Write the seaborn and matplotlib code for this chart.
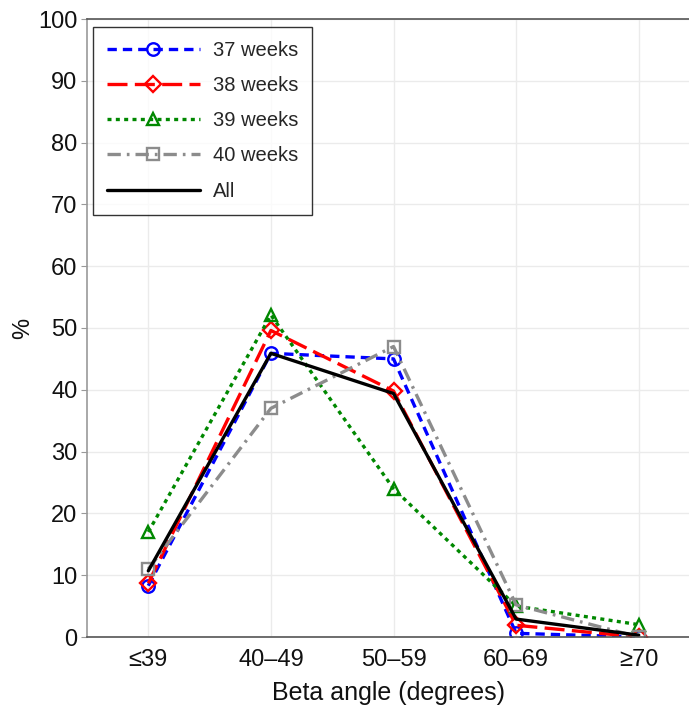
"""
Beta angle distribution by gestational age.
"""

import pandas as pd
import matplotlib.pyplot as plt
import seaborn as sns

# Data
categories = ["≤39", "40–49", "50–59", "60–69", "≥70"]
wk37 = [8.3, 45.9, 45.0, 0.6, 0.0]
wk38 = [8.7, 49.6, 39.8, 1.9, 0.0]
wk39 = [17.0, 52.1, 24.0, 5.0, 2.0]
wk40 = [11.0, 37.0, 47.0, 5.2, 0.0]
all_weeks = [10.7, 45.9, 39.4, 2.9, 0.3]

series_names = ["37 weeks", "38 weeks", "39 weeks", "40 weeks", "All"]
series_values = [wk37, wk38, wk39, wk40, all_weeks]

styles = {
    "37 weeks": dict(color="#0000ff", dashes=(2.8, 1.8), marker="o"),
    "38 weeks": dict(color="#ff0000", dashes=(6.0, 2.2), marker="D"),
    "39 weeks": dict(color="#008800", dashes=(1.2, 1.3), marker="^"),
    "40 weeks": dict(color="#8c8c8c", dashes=(4.0, 1.8, 0.8, 1.8), marker="s"),
    "All": dict(color="black", dashes=None, marker=None),
}

rows = []
for name, vals in zip(series_names, series_values):
    for i, v in enumerate(vals):
        rows.append({"series": name, "pos": i, "pct": v})
df = pd.DataFrame(rows)

sns.set_style("white")
plt.rcParams["font.family"] = ["Liberation Sans", "DejaVu Sans"]

fig = plt.figure(figsize=(6.89, 7.11), dpi=100)
ax = fig.add_axes([87 / 689, 74 / 711, 602 / 689, 618 / 711])

for name in series_names:
    st = styles[name]
    sub = df[df["series"] == name]
    kw = dict(color=st["color"], linewidth=2.4, label=name)
    if st["marker"]:
        kw.update(marker=st["marker"], markersize=9 if st["marker"] != "D" else 8,
                  markerfacecolor="none", markeredgecolor=st["color"],
                  markeredgewidth=1.7)
    line = sns.lineplot(data=sub, x="pos", y="pct", ax=ax, **kw).lines[-1]
    if st["dashes"]:
        line.set_dashes(st["dashes"])

ax.set_xlim(-0.5, 4.41)
ax.set_ylim(0, 100)
ax.set_xticks(range(len(categories)))
ax.set_xticklabels(categories)
ax.set_yticks(range(0, 101, 10))
ax.tick_params(axis="both", labelsize=17, colors="#111111", length=4,
               color="#999999", direction="out")
ax.tick_params(axis="x", length=0, pad=9)
ax.tick_params(axis="y", left=True, pad=3)
ax.grid(True, color="#ebebeb", linewidth=1)
ax.set_axisbelow(True)

for side in ["top", "bottom"]:
    ax.spines[side].set_color("#555555")
    ax.spines[side].set_linewidth(1.2)
ax.spines["left"].set_color("#999999")
ax.spines["left"].set_linewidth(1.2)
ax.spines["right"].set_visible(False)

ax.set_xlabel("Beta angle (degrees)", fontsize=18, labelpad=7, color="#111111")
ax.set_ylabel("%", fontsize=17, labelpad=3, color="#111111")

leg = ax.legend(loc="upper left", bbox_to_anchor=(0.01, 0.987),
                borderaxespad=0, fontsize=14.5, handlelength=4.6,
                handletextpad=0.65, labelspacing=0.8, borderpad=0.7,
                frameon=True, fancybox=False, edgecolor="black")
leg.get_frame().set_linewidth(1.0)

fig.savefig("out.png", dpi=100)
